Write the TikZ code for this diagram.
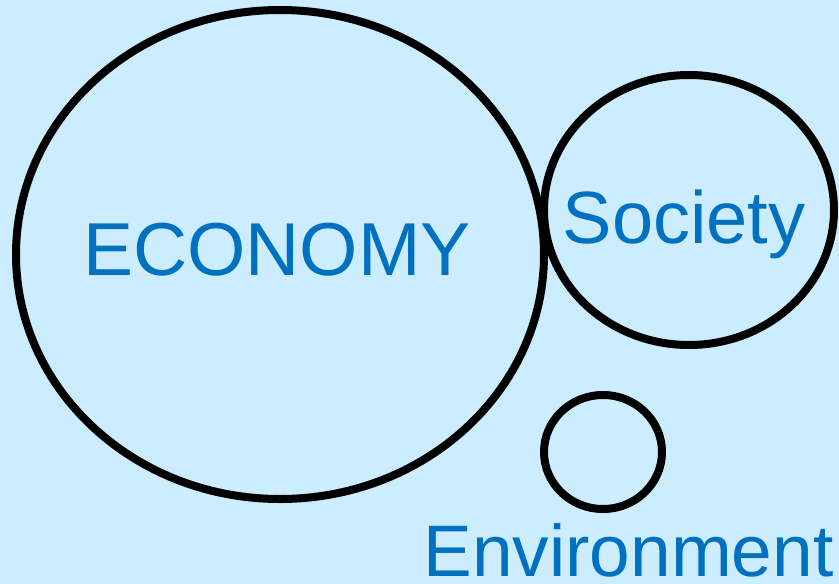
\documentclass[tikz,border=0pt]{standalone}
\usepackage{fontspec}
\setmainfont{Liberation Sans}
\definecolor{bgblue}{HTML}{CCECFF}
\definecolor{txtblue}{HTML}{0070C0}
\begin{document}
\begin{tikzpicture}[x=1pt,y=-1pt,
  ring/.style={draw=black,line width=8pt},
  lbl/.style={text=txtblue,anchor=base,inner sep=0pt}]
\fill[bgblue] (0,0) rectangle (839,584);
\useasboundingbox (0,0) rectangle (839,584);
\draw[ring] (280,254.5) ellipse [x radius=264, y radius=244.5];
\draw[ring] (689,210) ellipse [x radius=145, y radius=135];
\draw[ring] (603,452) ellipse [x radius=59, y radius=57];
\node[lbl,font=\fontsize{75}{80}\selectfont] (eco) at (277,275.7) {ECONOMY};
\node[lbl,font=\fontsize{74}{80}\selectfont] (soc) at (684,243.3) {Society};
\node[lbl,font=\fontsize{73}{80}\selectfont] (env) at (628.5,576.5) {Environment};
\end{tikzpicture}
\end{document}
